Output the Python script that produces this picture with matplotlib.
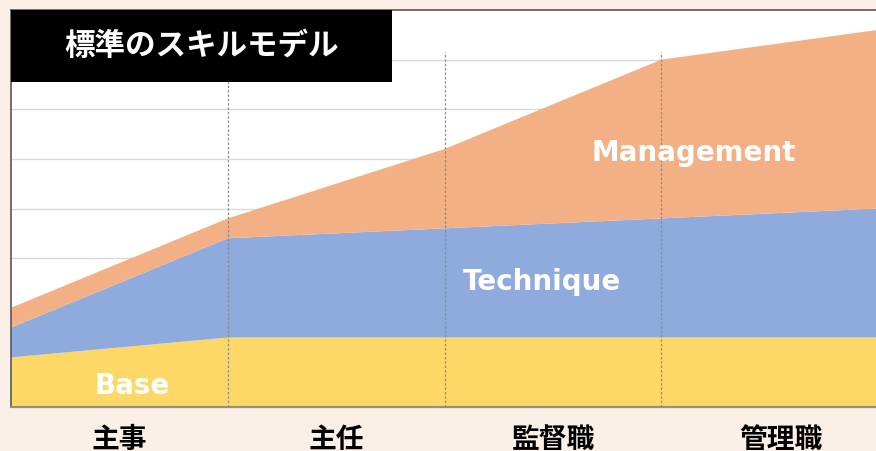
import numpy as np
import matplotlib.pyplot as plt

plt.rcParams['font.family'] = ['Noto Sans CJK JP', 'DejaVu Sans']

# stage positions (boundaries between grades)
stages = [0, 1, 2, 3, 4]
base = [1.0, 1.4, 1.4, 1.4, 1.4]
technique = [0.6, 2.0, 2.2, 2.4, 2.6]
management = [0.4, 0.4, 1.6, 3.2, 3.6]

grades = ['主事', '主任', '監督職', '管理職']
layer_names = ['Base', 'Technique', 'Management']
title = '標準のスキルモデル'

bg = '#FBF0E8'
colors = ['#FDD866', '#8FAADC', '#F3B084']

fig = plt.figure(figsize=(8.76, 4.51), dpi=100, facecolor=bg)
ax = fig.add_axes([11 / 876, 44 / 451, 865 / 876, 397 / 451])
ax.set_facecolor('white')

ax.stackplot(stages, base, technique, management, colors=colors, zorder=2)

ax.set_xlim(0, 3.99)
ax.set_ylim(0, 8)

# horizontal grid behind the areas
ax.set_yticks(np.arange(1, 8))
ax.yaxis.grid(True, color='#D9D9D9', lw=1, zorder=0)
ax.set_axisbelow(True)
ax.tick_params(axis='y', left=False, labelleft=False)

# dashed separators between grades
for s in stages[1:4]:
    ax.plot([s, s], [0, 7.16], ls=(0, (2, 1.5)), color='#8C8C8C', lw=0.9, zorder=3)

# grade labels
ax.set_xticks([0.5, 1.5, 2.5, 3.55])
ax.set_xticklabels(grades, fontsize=20, fontweight='bold', color='black')
ax.tick_params(axis='x', length=0, pad=14)

for sp in ['top', 'left']:
    ax.spines[sp].set_color('#595959')
    ax.spines[sp].set_linewidth(1.2)
ax.spines['bottom'].set_color('#9C9070')
ax.spines['bottom'].set_linewidth(1.6)
ax.spines['right'].set_visible(False)

# layer labels
cum = np.cumsum([base, technique, management], axis=0)
ax.text(0.56, 0.42, layer_names[0], color='white', fontsize=20, fontweight='bold',
        family='DejaVu Sans', ha='center', va='center', zorder=4)
ax.text(2.45, 2.52, layer_names[1], color='white', fontsize=20, fontweight='bold',
        family='DejaVu Sans', ha='center', va='center', zorder=4)
ax.text(3.15, 5.11, layer_names[2], color='white', fontsize=20, fontweight='bold',
        family='DejaVu Sans', ha='center', va='center', zorder=4)

# title box
ax.text(0.0, 8.0, '', zorder=5)
tb = fig.add_axes([11 / 876, 1 - 82 / 451, 381 / 876, 72 / 451])
tb.set_facecolor('black')
tb.set_xticks([])
tb.set_yticks([])
for sp in tb.spines.values():
    sp.set_visible(False)
tb.text(0.5, 0.5, title, color='white', fontsize=22, fontweight='bold',
        ha='center', va='center', transform=tb.transAxes)

fig.savefig('out.png', dpi=100, facecolor=bg)
